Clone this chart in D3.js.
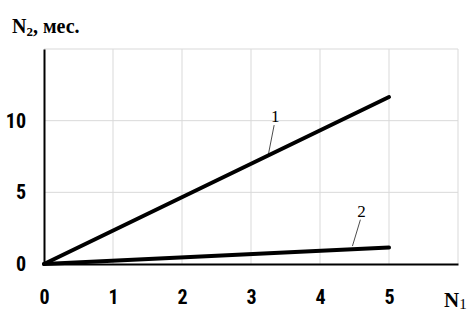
<!DOCTYPE html>
<html>
<head>
<meta charset="utf-8">
<script src="https://cdn.jsdelivr.net/npm/d3@7"></script>
<style>
  body { margin: 0; background: #fff; }
  svg { display: block; }
</style>
</head>
<body>
<svg id="chart" width="472" height="323"></svg>
<script>
// Data
var xTicks = [0, 1, 2, 3, 4, 5];
var yTicks = [0, 5, 10];
var series1 = [[0, 0], [5, 11.65]];
var series2 = [[0, 0], [5, 1.15]];
var seriesNames = ["1", "2"];

var margin = {top: 49, right: 14, bottom: 59, left: 44},
    width = 472 - margin.left - margin.right,
    height = 323 - margin.top - margin.bottom;

var svg = d3.select("#chart")
  .append("g")
  .attr("transform", "translate(" + margin.left + "," + margin.top + ")");

var x = d3.scaleLinear().domain([0, 6]).range([0, width]);
var y = d3.scaleLinear().domain([0, 15]).range([height, 0]);

// Grid lines
svg.append("g")
  .selectAll("line")
  .data([1, 2, 3, 4, 5, 6])
  .enter()
  .append("line")
  .attr("x1", function(d) { return x(d); })
  .attr("x2", function(d) { return x(d); })
  .attr("y1", 0)
  .attr("y2", height)
  .style("stroke", "#d9d9d9")
  .style("stroke-width", 1);

svg.append("g")
  .selectAll("line")
  .data([5, 10, 15])
  .enter()
  .append("line")
  .attr("x1", 0)
  .attr("x2", width)
  .attr("y1", function(d) { return y(d); })
  .attr("y2", function(d) { return y(d); })
  .style("stroke", "#d9d9d9")
  .style("stroke-width", 1);

// Axes
var xAxis = svg.append("g")
  .attr("transform", "translate(0," + height + ")")
  .call(d3.axisBottom(x).tickValues(xTicks).tickSize(0).tickPadding(26).tickFormat(d3.format("d")));

var yAxis = svg.append("g")
  .call(d3.axisLeft(y).tickValues(yTicks).tickSize(0).tickPadding(18).tickFormat(d3.format("d")));

[xAxis, yAxis].forEach(function(a) {
  a.select(".domain").style("stroke", "#000").style("stroke-width", 2);
  a.selectAll("text")
    .style("font-family", "Liberation Sans Narrow, Roboto Condensed, Roboto, sans-serif")
    .style("font-stretch", "condensed")
    .style("font-weight", "bold")
    .style("font-size", "20px")
    .style("fill", "#000");
});

// Lines
var line = d3.line()
  .x(function(d) { return x(d[0]); })
  .y(function(d) { return y(d[1]); });

[series1, series2].forEach(function(s) {
  svg.append("path")
    .datum(s)
    .attr("d", line)
    .style("fill", "none")
    .style("stroke", "#000")
    .style("stroke-width", 4)
    .style("stroke-linecap", "round");
});

// Series labels with leader lines
var labels = [
  {name: seriesNames[0], lx: 3.35, ly: 9.9, px: 3.25, py: 7.6},
  {name: seriesNames[1], lx: 4.6, ly: 3.3, px: 4.47, py: 1.25}
];
labels.forEach(function(l) {
  svg.append("line")
    .attr("x1", x(l.lx) - 1)
    .attr("y1", y(l.ly) + 3)
    .attr("x2", x(l.px))
    .attr("y2", y(l.py))
    .style("stroke", "#000")
    .style("stroke-width", 0.7);
  svg.append("text")
    .attr("x", x(l.lx))
    .attr("y", y(l.ly))
    .attr("text-anchor", "middle")
    .style("font-family", "Liberation Serif, serif")
    .style("font-size", "17px")
    .text(l.name);
});

// Axis titles
d3.select("#chart").append("text")
  .attr("x", 12)
  .attr("y", 33)
  .style("font-family", "Liberation Serif, serif")
  .style("font-weight", "bold")
  .style("font-size", "20px")
  .html("N<tspan font-size='13px' dy='3'>2</tspan><tspan dy='-3'>, мес.</tspan>");

d3.select("#chart").append("text")
  .attr("x", 444)
  .attr("y", 307)
  .style("font-family", "Liberation Serif, serif")
  .style("font-weight", "bold")
  .style("font-size", "21px")
  .html("N<tspan font-size='15px' dy='2' font-weight='normal'>1</tspan>");
</script>
</body>
</html>
